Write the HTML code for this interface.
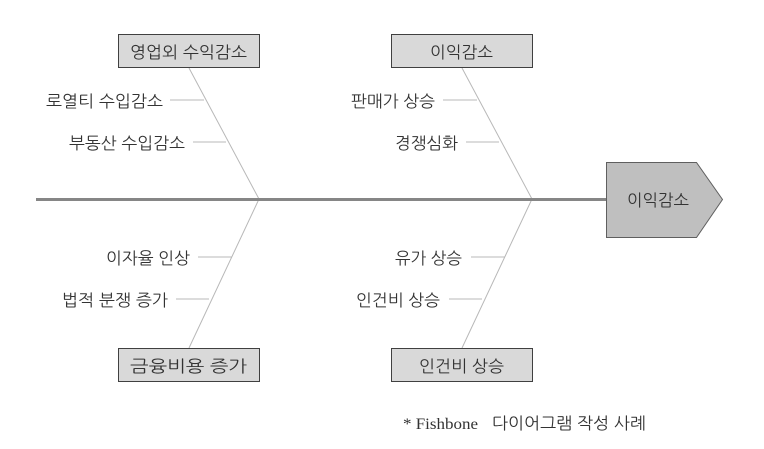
<!DOCTYPE html>
<html><head><meta charset="utf-8"><style>
html,body{margin:0;padding:0;background:#fff;width:764px;height:449px;overflow:hidden}
svg{display:block}
text{font-family:"Liberation Sans","NanumGothic","Noto Sans CJK KR",sans-serif;font-size:16.500px;fill:#333}
</style></head><body>
<svg width="764" height="449" viewBox="0 0 764 449" xmlns="http://www.w3.org/2000/svg">
<g fill="none" stroke="#b8b8b8" stroke-width="1">
<path d="M189 68L259 199L189 348"/>
<path d="M462 68L532 199L462 348"/>
<path d="M170 100H204M193 142H226"/>
<path d="M443 100H477M466 142H499"/>
<path d="M198 257H232M176 299H209"/>
<path d="M471 257H505M449 299H482"/>
</g>
<path d="M36 199.500H606" stroke="#868686" stroke-width="3"/>
<g fill="#d9d9d9" stroke="#404040" stroke-width="1">
<rect x="118.500" y="34.500" width="141" height="33"/>
<rect x="391.500" y="34.500" width="141" height="33"/>
<rect x="118.500" y="348.500" width="141" height="33"/>
<rect x="391.500" y="348.500" width="141" height="33"/>
</g>
<path d="M606.500 162.500H696.500L722.500 199.500L696.500 237.500H606.500Z" fill="#bfbfbf" stroke="#5f5f5f"/>
<text x="130" y="58" textLength="117" lengthAdjust="spacingAndGlyphs">영업외 수익감소</text>
<text x="430" y="58" textLength="63" lengthAdjust="spacingAndGlyphs">이익감소</text>
<text x="130" y="372" textLength="117" lengthAdjust="spacingAndGlyphs">금융비용 증가</text>
<text x="419" y="372" textLength="85" lengthAdjust="spacingAndGlyphs">인건비 상승</text>
<text x="627" y="206" textLength="62" lengthAdjust="spacingAndGlyphs">이익감소</text>
<text x="46" y="107" textLength="117" lengthAdjust="spacingAndGlyphs">로열티 수입감소</text>
<text x="69" y="149" textLength="116" lengthAdjust="spacingAndGlyphs">부동산 수입감소</text>
<text x="351" y="107" textLength="84" lengthAdjust="spacingAndGlyphs">판매가 상승</text>
<text x="395" y="149" textLength="63" lengthAdjust="spacingAndGlyphs">경쟁심화</text>
<text x="106" y="264" textLength="84" lengthAdjust="spacingAndGlyphs">이자율 인상</text>
<text x="62" y="306" textLength="106" lengthAdjust="spacingAndGlyphs">법적 분쟁 증가</text>
<text x="395" y="264" textLength="67" lengthAdjust="spacingAndGlyphs">유가 상승</text>
<text x="356" y="306" textLength="84" lengthAdjust="spacingAndGlyphs">인건비 상승</text>
<text x="403" y="429" textLength="75" lengthAdjust="spacingAndGlyphs" style="font-family:'Liberation Serif',serif;font-size:16px">* Fishbone</text>
<text x="492" y="429" textLength="154" lengthAdjust="spacingAndGlyphs">다이어그램 작성 사례</text>
</svg>
</body></html>
